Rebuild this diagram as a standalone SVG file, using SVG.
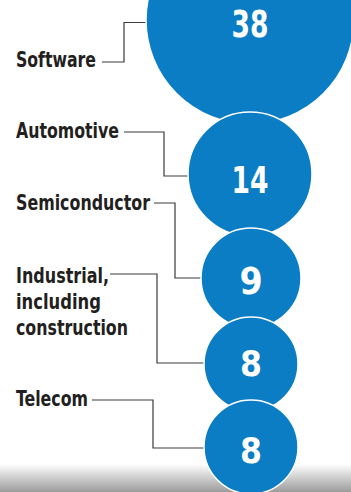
<svg xmlns="http://www.w3.org/2000/svg" width="351" height="492" viewBox="0 0 351 492">
<defs>
<linearGradient id="shade" x1="0" y1="0" x2="0" y2="1">
<stop offset="0" stop-color="#ffffff"/>
<stop offset="1" stop-color="#9c9c9c"/>
</linearGradient>
<style>
.bub{fill:#0b7dc4;stroke:#ffffff;stroke-width:1.5}
.num{font-family:"DejaVu Sans Condensed","DejaVu Sans","Liberation Sans",sans-serif;font-stretch:condensed;font-weight:bold;fill:#ffffff;text-anchor:middle}
.lab{font-family:"DejaVu Sans Condensed","DejaVu Sans","Liberation Sans",sans-serif;font-stretch:condensed;font-weight:bold;font-size:20.5px;fill:#231f20}
.lead{fill:none;stroke:#3a3a3a;stroke-width:1.2}
</style>
</defs>
<rect x="0" y="0" width="351" height="492" fill="#ffffff"/>
<rect x="0" y="464" width="351" height="28" fill="url(#shade)"/>
<g id="connectors">
<path class="lead" d="M102,62 H124 V22.5 H146"/>
<path class="lead" d="M124,132 H164 V176 H188"/>
<path class="lead" d="M154,203 H175 V278 H201"/>
<path class="lead" d="M110,274 H157 V363 H204"/>
<path class="lead" d="M92,400 H153 V448 H204"/>
</g>
<g id="software">
<circle class="bub" cx="250" cy="20" r="104"/>
<text class="num" x="250" y="37" font-size="38" textLength="37" lengthAdjust="spacingAndGlyphs">38</text>
<text class="lab" x="16" y="67" textLength="80" lengthAdjust="spacingAndGlyphs">Software</text>
</g>
<g id="automotive">
<circle class="bub" cx="250" cy="174" r="62"/>
<text class="num" x="250" y="193" font-size="38" textLength="37" lengthAdjust="spacingAndGlyphs">14</text>
<text class="lab" x="16" y="138" textLength="103" lengthAdjust="spacingAndGlyphs">Automotive</text>
</g>
<g id="semiconductor">
<circle class="bub" cx="251" cy="278" r="50"/>
<text class="num" x="251" y="294" font-size="37">9</text>
<text class="lab" x="16" y="210" textLength="134" lengthAdjust="spacingAndGlyphs">Semiconductor</text>
</g>
<g id="industrial">
<circle class="bub" cx="251" cy="364" r="47"/>
<text class="num" x="251" y="376" font-size="35">8</text>
<text class="lab" x="16" y="283" textLength="93" lengthAdjust="spacingAndGlyphs">Industrial,</text>
<text class="lab" x="16" y="309" textLength="85" lengthAdjust="spacingAndGlyphs">including</text>
<text class="lab" x="16" y="335" textLength="112" lengthAdjust="spacingAndGlyphs">construction</text>
</g>
<g id="telecom">
<circle class="bub" cx="251" cy="447" r="47"/>
<text class="num" x="251" y="463" font-size="35">8</text>
<text class="lab" x="16" y="405.5" textLength="72" lengthAdjust="spacingAndGlyphs">Telecom</text>
</g>
</svg>
